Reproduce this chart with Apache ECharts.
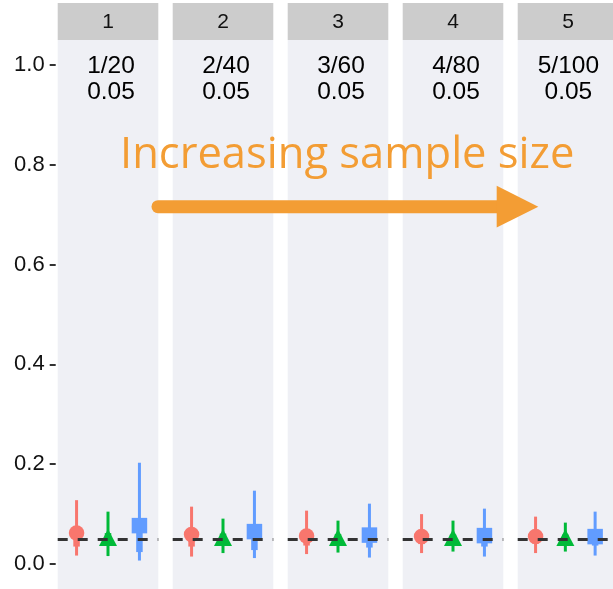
<!DOCTYPE html>
<html>
<head>
<meta charset="utf-8">
<script src="https://cdn.jsdelivr.net/npm/echarts@6/dist/echarts.min.js"></script>
<style>
  html, body { margin: 0; padding: 0; background: #ffffff; }
  #chart { width: 613px; height: 589px; }
</style>
</head>
<body>
<div id="chart"></div>
<script>
// Facet panels: one per sample size
const panelNames = ['1', '2', '3', '4', '5'];
const events = [1, 2, 3, 4, 5];
const trials = [20, 40, 60, 80, 100];
const rateLabels = ['0.05', '0.05', '0.05', '0.05', '0.05'];
const referenceRate = 0.05;

// Y axis ticks
const tickValues = [0, 0.2, 0.4, 0.6, 0.8, 1.0];
const tickLabels = ['0.0', '0.2', '0.4', '0.6', '0.8', '1.0'];

// Model 1 (circle): median, 95% and 50% intervals per panel
const m1Est  = [0.062, 0.059, 0.056, 0.055, 0.055];
const m1Lo95 = [0.017, 0.015, 0.020, 0.022, 0.022];
const m1Hi95 = [0.128, 0.115, 0.107, 0.100, 0.095];
const m1Lo50 = [0.035, 0.035, 0.037, 0.040, 0.041];
const m1Hi50 = [0.072, 0.070, 0.066, 0.064, 0.064];

// Model 2 (triangle)
const m2Est  = [0.053, 0.053, 0.053, 0.053, 0.053];
const m2Lo95 = [0.016, 0.022, 0.023, 0.025, 0.025];
const m2Hi95 = [0.105, 0.091, 0.087, 0.087, 0.083];
const m2Lo50 = [0.042, 0.043, 0.044, 0.045, 0.046];
const m2Hi50 = [0.062, 0.061, 0.060, 0.059, 0.059];

// Model 3 (square)
const m3Est  = [0.077, 0.065, 0.058, 0.057, 0.055];
const m3Lo95 = [0.007, 0.012, 0.013, 0.015, 0.017];
const m3Hi95 = [0.203, 0.147, 0.121, 0.111, 0.105];
const m3Lo50 = [0.024, 0.028, 0.033, 0.035, 0.037];
const m3Hi50 = [0.090, 0.078, 0.071, 0.069, 0.067];

const models = [
  { est: m1Est, lo95: m1Lo95, hi95: m1Hi95, lo50: m1Lo50, hi50: m1Hi50, color: '#F8766D', symbol: 'circle', size: 15.5 },
  { est: m2Est, lo95: m2Lo95, hi95: m2Hi95, lo50: m2Lo50, hi50: m2Hi50, color: '#00BA38', symbol: 'triangle', size: [18, 17] },
  { est: m3Est, lo95: m3Lo95, hi95: m3Hi95, lo50: m3Lo50, hi50: m3Hi50, color: '#619CFF', symbol: 'rect', size: 15.5 }
];

// Layout of the facet panels
const panelLeft = 57.7, panelWidth = 100.6, panelStep = 115;
const panelTop = 40, panelHeight = 550;
const stripTop = 3, stripHeight = 37;
const panelBg = '#eff0f5';
const stripBg = '#cccccc';
const accent = '#F39D34';

const chart = echarts.init(document.getElementById('chart'), null, { renderer: 'canvas' });

const grids = [], xAxes = [], yAxes = [], series = [], graphics = [];

panelNames.forEach((name, p) => {
  const left = panelLeft + p * panelStep;
  grids.push({
    left: left, top: panelTop, width: panelWidth, height: panelHeight,
    show: true, backgroundColor: panelBg, borderWidth: 0, containLabel: false
  });
  xAxes.push({ gridIndex: p, type: 'value', min: 0.4, max: 3.6, show: false });
  if (p === 0) {
    yAxes.push({
      gridIndex: p, type: 'value', min: -0.05, max: 1.05, offset: 2,
      axisLine: { show: false },
      splitLine: { show: false },
      axisTick: { show: true, length: 6, customValues: tickValues, lineStyle: { color: '#333333', width: 2 } },
      axisLabel: {
        customValues: tickValues, margin: 11, fontSize: 22, color: '#111111',
        fontFamily: 'Liberation Sans',
        formatter: v => tickLabels[tickValues.indexOf(v)]
      }
    });
  } else {
    yAxes.push({ gridIndex: p, type: 'value', min: -0.05, max: 1.05, show: false });
  }

  // Strip header
  graphics.push({
    type: 'rect', shape: { x: left, y: stripTop, width: panelWidth, height: stripHeight },
    style: { fill: stripBg }, silent: true, z: 1
  });
  graphics.push({
    type: 'text', x: left + panelWidth / 2, y: stripTop + stripHeight / 2 + 1,
    style: { text: name, fill: '#111111', font: '21px "Liberation Sans"', align: 'center', verticalAlign: 'middle' },
    silent: true, z: 2
  });

  // Intervals and point estimates
  const data = models.map((m, k) => [k + 1, m.est[p], m.lo95[p], m.hi95[p], m.lo50[p], m.hi50[p], k]);
  series.push({
    type: 'custom', xAxisIndex: p, yAxisIndex: p, z: 3, silent: true,
    data: data,
    renderItem: (params, api) => {
      const x = api.value(0);
      const k = api.value(6);
      const m = models[k];
      const pt = api.coord([x, api.value(1)]);
      const a95 = api.coord([x, api.value(2)]);
      const b95 = api.coord([x, api.value(3)]);
      const a50 = api.coord([x, api.value(4)]);
      const b50 = api.coord([x, api.value(5)]);
      const size = Array.isArray(m.size) ? m.size : [m.size, m.size];
      const children = [
        { type: 'line', shape: { x1: a95[0], y1: a95[1], x2: b95[0], y2: b95[1] },
          style: { stroke: m.color, lineWidth: 3 } },
        { type: 'line', shape: { x1: a50[0], y1: a50[1], x2: b50[0], y2: b50[1] },
          style: { stroke: m.color, lineWidth: 6.5 } }
      ];
      if (m.symbol === 'circle') {
        children.push({ type: 'circle', shape: { cx: pt[0], cy: pt[1], r: size[0] / 2 }, style: { fill: m.color } });
      } else if (m.symbol === 'rect') {
        children.push({ type: 'rect', shape: { x: pt[0] - size[0] / 2, y: pt[1] - size[1] / 2, width: size[0], height: size[1] }, style: { fill: m.color } });
      } else {
        children.push({ type: 'polygon', shape: { points: [
          [pt[0], pt[1] - size[1] / 2], [pt[0] + size[0] / 2, pt[1] + size[1] / 2], [pt[0] - size[0] / 2, pt[1] + size[1] / 2]
        ] }, style: { fill: m.color } });
      }
      return { type: 'group', children: children };
    }
  });

  // Reference line and panel caption
  series.push({
    type: 'custom', xAxisIndex: p, yAxisIndex: p, z: 5, silent: true,
    data: [[2, 0.972, p]],
    renderItem: (params, api) => {
      const q = api.value(2);
      const c = api.coord([api.value(0), api.value(1)]);
      return {
        type: 'text', x: c[0] + 3, y: c[1],
        style: {
          text: events[q] + '/' + trials[q] + '\n' + rateLabels[q],
          fill: '#000000', font: '24.5px "Liberation Sans"', lineHeight: 26,
          align: 'center', verticalAlign: 'middle'
        }
      };
    },
    markLine: {
      silent: true, symbol: ['none', 'none'], z: 10,
      label: { show: false },
      lineStyle: { color: '#333333', width: 3, type: [10, 10], opacity: 1 },
      emphasis: { disabled: true },
      data: [{ yAxis: referenceRate }]
    }
  });
});

// Annotation: arrow and caption across the panels
graphics.push({
  type: 'text', x: 120, y: 134,
  style: { text: 'Increasing sample size', fill: accent, font: '43.5px "Open Sans"', verticalAlign: 'top', align: 'left' },
  silent: true, z: 20
});
graphics.push({
  type: 'line', shape: { x1: 158, y1: 206.7, x2: 500, y2: 206.7 },
  style: { stroke: accent, lineWidth: 13, lineCap: 'round' }, silent: true, z: 20
});
graphics.push({
  type: 'polygon', shape: { points: [[496.7, 185.7], [538.3, 206.7], [496.7, 227.5]] },
  style: { fill: accent }, silent: true, z: 20
});

chart.setOption({
  animation: false,
  backgroundColor: '#ffffff',
  grid: grids,
  xAxis: xAxes,
  yAxis: yAxes,
  series: series,
  graphic: graphics
});
</script>
</body>
</html>
